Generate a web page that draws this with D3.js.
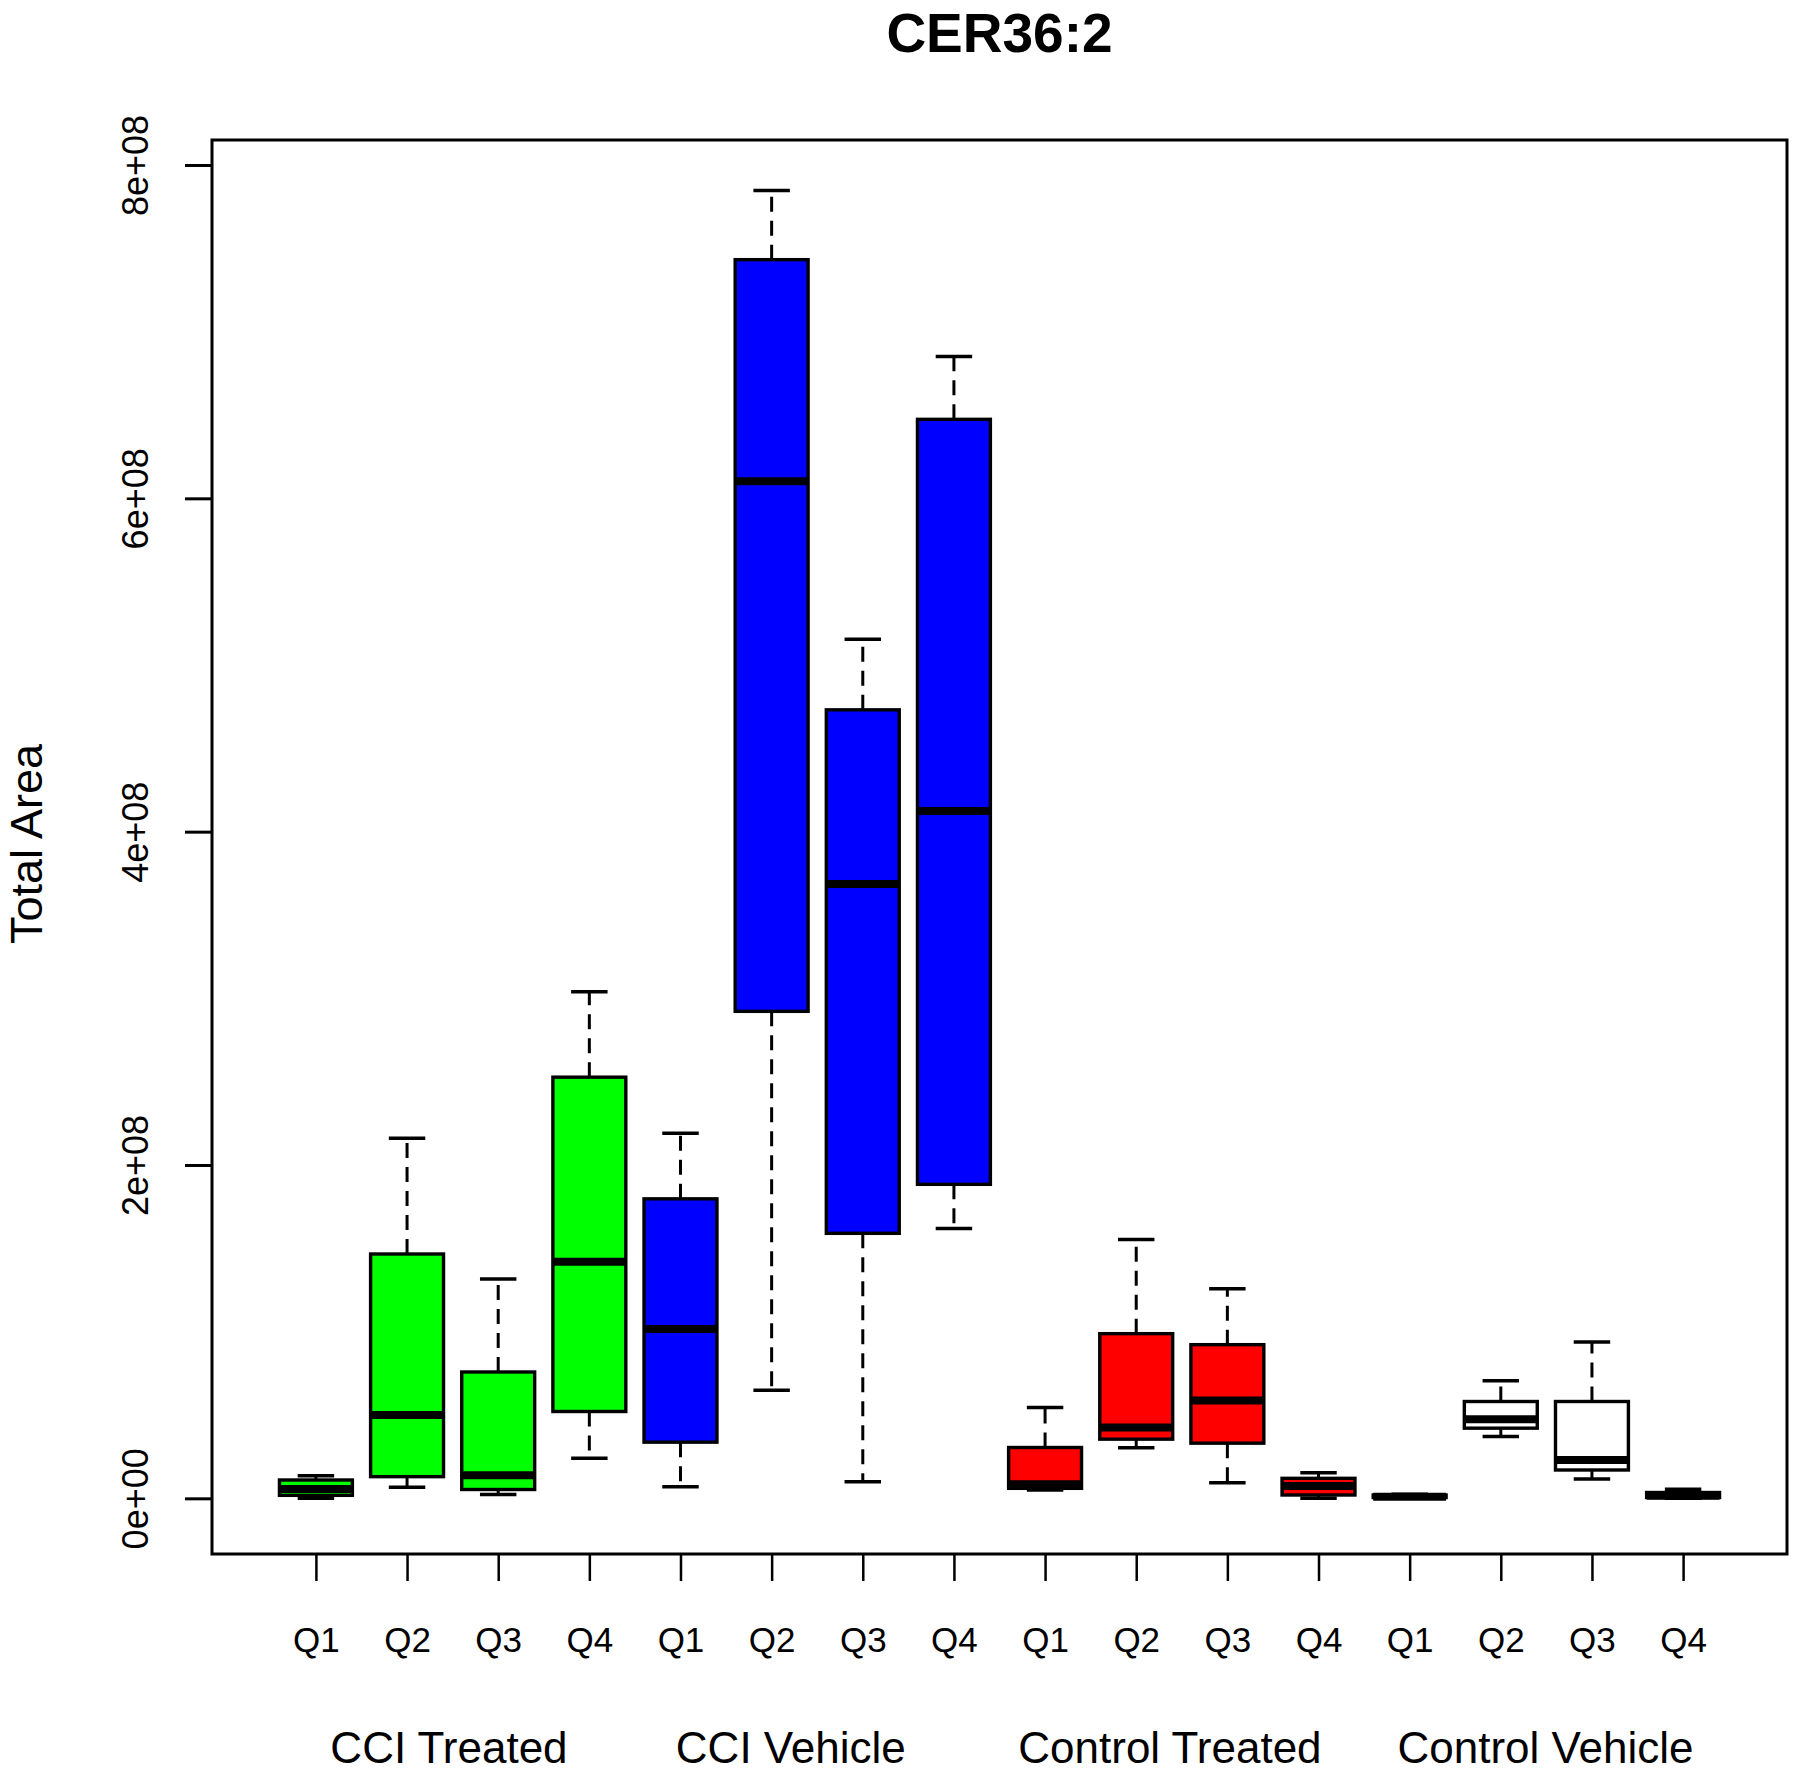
<!DOCTYPE html>
<html>
<head>
<meta charset="utf-8">
<script src="https://cdn.jsdelivr.net/npm/d3@7"></script>
<style>
  html, body { margin: 0; padding: 0; background: #ffffff; }
  svg { display: block; font-family: "Liberation Sans", Arial, sans-serif; }
</style>
</head>
<body>
<svg id="chart" width="1800" height="1772"></svg>
<script>
// ---------------- data ----------------
const chartTitle = "CER36:2";
const yLabel = "Total Area";
const groups = ["CCI Treated", "CCI Vehicle", "Control Treated", "Control Vehicle"];
const quarters = ["Q1", "Q2", "Q3", "Q4"];
const groupColors = ["#00ff00", "#0000ff", "#ff0000", "#ffffff"];
const yTickValues = [0, 2e8, 4e8, 6e8, 8e8];
const yTickLabels = ["0e+00", "2e+08", "4e+08", "6e+08", "8e+08"];

// five-number summaries per quarter: [lower whisker, Q1, median, Q3, upper whisker]
const cciTreated = [
  [0.000e8, 0.018e8, 0.056e8, 0.110e8, 0.136e8],
  [0.066e8, 0.130e8, 0.500e8, 1.466e8, 2.160e8],
  [0.023e8, 0.053e8, 0.138e8, 0.758e8, 1.316e8],
  [0.241e8, 0.521e8, 1.420e8, 2.527e8, 3.040e8]
];
const cciVehicle = [
  [0.069e8, 0.337e8, 1.016e8, 1.797e8, 2.190e8],
  [0.648e8, 2.922e8, 6.103e8, 7.432e8, 7.847e8],
  [0.100e8, 1.590e8, 3.686e8, 4.731e8, 5.154e8],
  [1.619e8, 1.884e8, 4.124e8, 6.474e8, 6.851e8]
];
const controlTreated = [
  [0.050e8, 0.060e8, 0.085e8, 0.305e8, 0.545e8],
  [0.304e8, 0.355e8, 0.425e8, 0.988e8, 1.553e8],
  [0.094e8, 0.331e8, 0.587e8, 0.922e8, 1.257e8],
  [0.000e8, 0.020e8, 0.074e8, 0.120e8, 0.154e8]
];
const controlVehicle = [
  [0.000e8, 0.005e8, 0.010e8, 0.020e8, 0.025e8],
  [0.371e8, 0.421e8, 0.475e8, 0.581e8, 0.705e8],
  [0.116e8, 0.170e8, 0.230e8, 0.581e8, 0.938e8],
  [0.000e8, 0.005e8, 0.015e8, 0.035e8, 0.055e8]
];
const groupStats = [cciTreated, cciVehicle, controlTreated, controlVehicle];

// ---------------- layout ----------------
const plot = { left: 212, right: 1787, top: 140, bottom: 1554 };
const boxWidthUnits = 0.8;
const capWidthUnits = 0.4;
// group label centres (in x-axis units) as placed in the original figure
const groupLabelPos = [2.46, 6.21, 10.37, 14.49];

const rows = [];
groupStats.forEach((g, gi) => {
  g.forEach((s, qi) => {
    rows.push({
      pos: gi * 4 + qi + 1,
      group: groups[gi],
      quarter: quarters[qi],
      color: groupColors[gi],
      lo: s[0], q1: s[1], med: s[2], q3: s[3], hi: s[4]
    });
  });
});

const svg = d3.select("#chart");

const x = d3.scaleLinear().domain([-0.14, 17.14]).range([plot.left, plot.right]);
const y = d3.scaleLinear().domain([-0.334e8, 8.150e8]).range([plot.bottom, plot.top]);

const bw = x(boxWidthUnits) - x(0);
const cw = x(capWidthUnits) - x(0);

// boxes
const g = svg.append("g").attr("class", "boxes");
const item = g.selectAll("g.box").data(rows).join("g").attr("class", "box");

// whiskers (dashed)
item.append("line")
  .attr("x1", d => x(d.pos)).attr("x2", d => x(d.pos))
  .attr("y1", d => y(d.q3)).attr("y2", d => y(d.hi))
  .attr("stroke", "#000").attr("stroke-width", 3).attr("stroke-dasharray", "15,9");
item.append("line")
  .attr("x1", d => x(d.pos)).attr("x2", d => x(d.pos))
  .attr("y1", d => y(d.q1)).attr("y2", d => y(d.lo))
  .attr("stroke", "#000").attr("stroke-width", 3).attr("stroke-dasharray", "15,9");
// staples
item.append("line")
  .attr("x1", d => x(d.pos) - cw / 2).attr("x2", d => x(d.pos) + cw / 2)
  .attr("y1", d => y(d.hi)).attr("y2", d => y(d.hi))
  .attr("stroke", "#000").attr("stroke-width", 3.5);
item.append("line")
  .attr("x1", d => x(d.pos) - cw / 2).attr("x2", d => x(d.pos) + cw / 2)
  .attr("y1", d => y(d.lo)).attr("y2", d => y(d.lo))
  .attr("stroke", "#000").attr("stroke-width", 3.5);
// box
item.append("rect")
  .attr("x", d => x(d.pos) - bw / 2)
  .attr("width", bw)
  .attr("y", d => y(d.q3))
  .attr("height", d => Math.max(0.5, y(d.q1) - y(d.q3)))
  .attr("fill", d => d.color)
  .attr("stroke", "#000").attr("stroke-width", 3.4);
// median
item.append("line")
  .attr("x1", d => x(d.pos) - bw / 2).attr("x2", d => x(d.pos) + bw / 2)
  .attr("y1", d => y(d.med)).attr("y2", d => y(d.med))
  .attr("stroke", "#000").attr("stroke-width", 8);

// plot frame
svg.append("rect")
  .attr("x", plot.left).attr("y", plot.top)
  .attr("width", plot.right - plot.left).attr("height", plot.bottom - plot.top)
  .attr("fill", "none").attr("stroke", "#000").attr("stroke-width", 3);

// y axis
const yAxis = svg.append("g")
  .attr("transform", `translate(${plot.left},0)`)
  .call(d3.axisLeft(y).tickValues(yTickValues).tickSize(27)
        .tickFormat((d, i) => yTickLabels[i]));
yAxis.select(".domain").remove();
yAxis.selectAll(".tick line").attr("stroke", "#000").attr("stroke-width", 3);
yAxis.selectAll(".tick text")
  .attr("transform", "rotate(-90)")
  .attr("x", 0).attr("y", -64).attr("dy", 0)
  .attr("text-anchor", "middle")
  .attr("fill", "#000")
  .style("font-size", "36px")
  .style("font-family", "'Liberation Sans', Arial, sans-serif");

// x axis
const xAxis = svg.append("g")
  .attr("transform", `translate(0,${plot.bottom})`)
  .call(d3.axisBottom(x).tickValues(rows.map(d => d.pos)).tickSize(27)
        .tickFormat((d, i) => rows[i].quarter));
xAxis.select(".domain").remove();
xAxis.selectAll(".tick line").attr("stroke", "#000").attr("stroke-width", 2.5);
xAxis.selectAll(".tick text")
  .attr("y", 98).attr("dy", 0)
  .attr("fill", "#000")
  .style("font-size", "35px")
  .style("font-family", "'Liberation Sans', Arial, sans-serif");

// group labels
svg.append("g").selectAll("text").data(groups).join("text")
  .attr("x", (d, i) => x(groupLabelPos[i]))
  .attr("y", 1763)
  .attr("text-anchor", "middle")
  .style("font-size", "44px")
  .text(d => d);

// y label
svg.append("text")
  .attr("transform", "translate(42,844) rotate(-90)")
  .attr("text-anchor", "middle")
  .style("font-size", "45px")
  .text(yLabel);

// title
svg.append("text")
  .attr("x", (plot.left + plot.right) / 2)
  .attr("y", 52)
  .attr("text-anchor", "middle")
  .style("font-size", "55px")
  .style("font-weight", "bold")
  .text(chartTitle);
</script>
</body>
</html>
